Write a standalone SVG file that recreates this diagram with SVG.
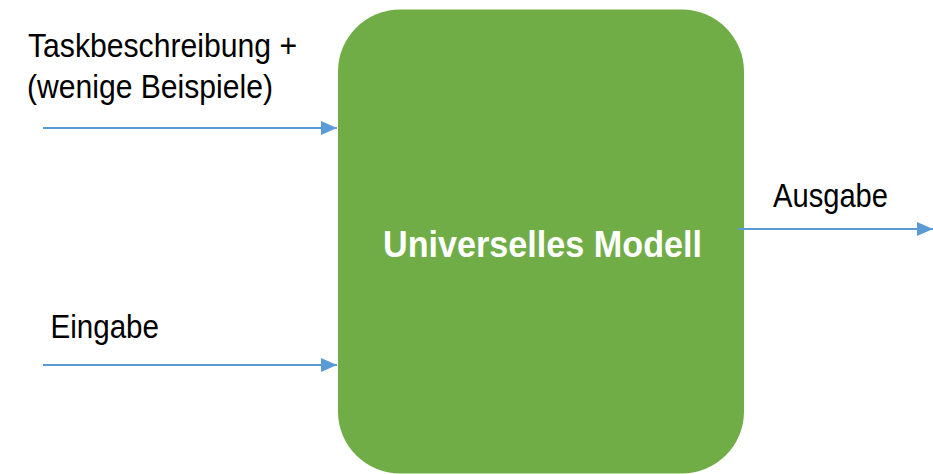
<svg xmlns="http://www.w3.org/2000/svg" width="933" height="474" viewBox="0 0 933 474">
<style>
.lbl{font-family:"Liberation Sans",Arial,sans-serif;font-size:33.5px;fill:#000}
.title{font-family:"Liberation Sans",Arial,sans-serif;font-size:37.5px;font-weight:bold;fill:#fff}
.conn{stroke:#5B9BD5;stroke-width:2;fill:none}
</style>
<defs>
<marker id="arr" markerUnits="userSpaceOnUse" markerWidth="16" markerHeight="14" refX="16" refY="7" orient="auto">
<path d="M0,0 L16,7 L0,14 Z" fill="#5B9BD5"/>
</marker>
</defs>
<rect width="933" height="474" fill="#fff"/>
<g id="model">
<rect x="338" y="9.5" width="406" height="464" rx="62" ry="62" fill="#70AD47"/>
<text class="title" x="383" y="257" textLength="319" lengthAdjust="spacingAndGlyphs">Universelles Modell</text>
</g>
<g id="connectors">
<line class="conn" x1="43" y1="128" x2="337" y2="128" marker-end="url(#arr)"/>
<line class="conn" x1="43" y1="365" x2="337" y2="365" marker-end="url(#arr)"/>
<line class="conn" x1="738" y1="229" x2="933" y2="229" marker-end="url(#arr)"/>
</g>
<g id="label-task">
<text class="lbl" x="28" y="57" textLength="269" lengthAdjust="spacingAndGlyphs">Taskbeschreibung +</text>
<text class="lbl" x="27" y="98" textLength="246" lengthAdjust="spacingAndGlyphs">(wenige Beispiele)</text>
</g>
<g id="label-eingabe">
<text class="lbl" x="50.5" y="338" textLength="108.5" lengthAdjust="spacingAndGlyphs">Eingabe</text>
</g>
<g id="label-ausgabe">
<text class="lbl" x="773" y="207" textLength="115" lengthAdjust="spacingAndGlyphs">Ausgabe</text>
</g>
</svg>
